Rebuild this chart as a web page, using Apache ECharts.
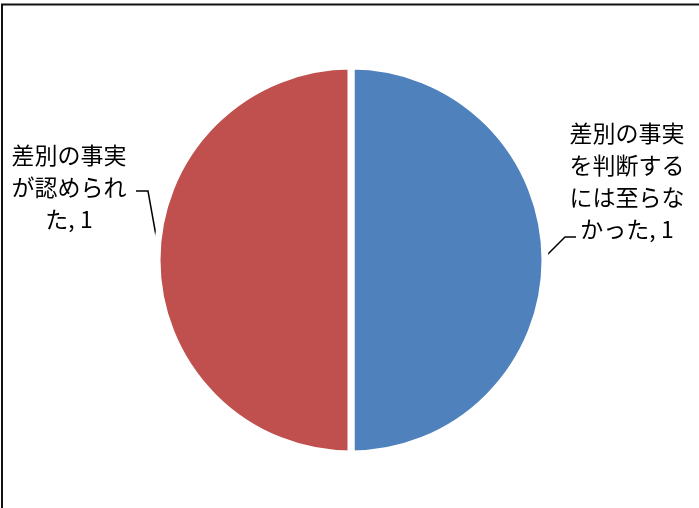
<!DOCTYPE html>
<html>
<head>
<meta charset="utf-8">
<script src="https://cdn.jsdelivr.net/npm/echarts@6/dist/echarts.min.js"></script>
<style>
html,body{margin:0;padding:0;background:#fff;}
#chart{width:699px;height:508px;}
</style>
</head>
<body>
<div id="chart"></div>
<script>
var categories = ['差別の事実を判断するには至らなかった', '差別の事実が認められた'];
var values = [1, 1];
var colors = ['#4F81BD', '#C0504D'];

var CX = 351, CY = 260, R = 194;

var chart = echarts.init(document.getElementById('chart'));
var data = categories.map(function (c, i) {
  return { name: c, value: values[i], itemStyle: { color: colors[i] } };
});

chart.setOption({
  animation: false,
  backgroundColor: '#fff',
  graphic: [{
    type: 'rect',
    shape: { x: 2, y: 4.5, width: 760, height: 560 },
    style: { fill: 'none', stroke: '#111', lineWidth: 2 },
    silent: true
  }],
  series: [{
    type: 'pie',
    center: [CX, CY],
    radius: R,
    startAngle: 90,
    clockwise: true,
    data: data,
    itemStyle: { borderColor: '#fff', borderWidth: 7 },
    label: {
      show: true,
      position: 'outside',
      formatter: '{b}, {c}',
      fontFamily: '"Noto Sans CJK JP", sans-serif',
      fontSize: 23,
      lineHeight: 32,
      color: '#000',
      width: 122,
      overflow: 'break',
      align: 'center'
    },
    labelLine: {
      show: true,
      lineStyle: { color: '#000', width: 1.5 }
    },
    labelLayout: function (params) {
      if (params.dataIndex === 0) {
        var s = [CX + R - 2, CY - 1];
        var e1 = [s[0] + 22, s[1] - 22];
        var e2 = [e1[0] + 11, e1[1]];
        return { x: 627, y: 181, align: 'center', verticalAlign: 'middle',
                 labelLinePoints: [s, e1, e2] };
      } else {
        var t = [CX - R + 3, CY - 2];
        var f1 = [t[0] - 12, t[1] - 67];
        var f2 = [f1[0] - 12, f1[1]];
        return { x: 69, y: 187, align: 'center', verticalAlign: 'middle',
                 labelLinePoints: [t, f1, f2] };
      }
    }
  }]
});
</script>
</body>
</html>
